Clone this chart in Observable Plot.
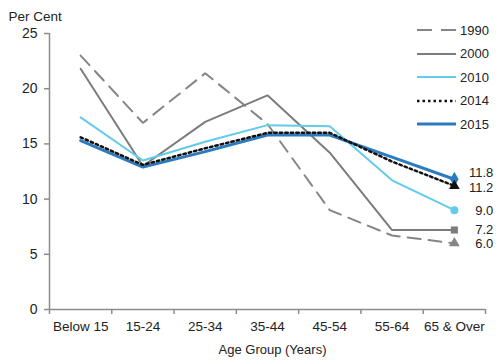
<!DOCTYPE html>
<html><head><meta charset="utf-8">
<script src="https://cdn.jsdelivr.net/npm/d3@7"></script>
<script src="https://cdn.jsdelivr.net/npm/@observablehq/plot@0.6"></script>
<style>
body{margin:0;background:#fff;font-family:"Liberation Sans",Arial,sans-serif;}
#wrap{position:relative;width:500px;height:364px;overflow:hidden;}
#legend{position:absolute;left:416px;top:0;}
.row{position:absolute;left:0;height:16px;display:flex;align-items:center;white-space:nowrap;}
.row span{font-size:13px;color:#222;margin-left:3px;}
</style></head><body><div id="wrap"><div id="legend"></div></div>
<script>
const ageGroups = ["Below 15","15-24","25-34","35-44","45-54","55-64","65 & Over"];
const years = ["1990","2000","2010","2014","2015"];
const v1990 = [23.0,16.9,21.4,16.8,9.0,6.7,6.0];
const v2000 = [21.8,13.0,17.0,19.4,14.2,7.2,7.2];
const v2010 = [17.4,13.5,15.2,16.7,16.6,11.7,9.0];
const v2014 = [15.6,13.1,14.6,16.0,16.0,13.4,11.2];
const v2015 = [15.3,12.9,14.3,15.8,15.8,13.8,11.8];
const yTicks = [0,5,10,15,20,25];

const seriesValues = {"1990":v1990,"2000":v2000,"2010":v2010,"2014":v2014,"2015":v2015};
const style = {
  "1990":{stroke:"#858585",width:2,dash:"13,8",symbol:"triangle",labelDy:1},
  "2000":{stroke:"#7c7c7c",width:2,dash:null,symbol:"square",labelDy:0},
  "2010":{stroke:"#62cbea",width:2,dash:null,symbol:"circle",labelDy:1},
  "2014":{stroke:"#111111",width:2.5,dash:"2.5,3",symbol:"triangle",labelDy:2},
  "2015":{stroke:"#2c7bbf",width:3,dash:null,symbol:"diamond",labelDy:-6}
};
const drawOrder = ["1990","2000","2010","2015","2014"];

const rows = years.flatMap(y => seriesValues[y].map((v,i)=>({year:y,i,v})));
const lastPts = years.map(y => ({year:y,i:ageGroups.length-1,v:seriesValues[y][ageGroups.length-1]}));
const boundaries = d3.range(ageGroups.length+1).map(k=>k-0.5);
const axisColor = "#8c8c8c";

const lineMarks = drawOrder.map(y => Plot.line(rows.filter(d=>d.year===y),{
  x:"i", y:"v", stroke:style[y].stroke, strokeWidth:style[y].width,
  strokeDasharray:style[y].dash||undefined, strokeLinejoin:"miter"
}));
const dotMarks = drawOrder.map(y => Plot.dot(lastPts.filter(d=>d.year===y),{
  x:"i", y:"v", symbol:()=>style[y].symbol, r:y==="2015"?4.5:4,
  fill:style[y].stroke, stroke:"none"
}));
const labelMarks = years.map(y => Plot.text(lastPts.filter(d=>d.year===y),{
  x:"i", y:"v", text:d=>d.v.toFixed(1), textAnchor:"end", dx:39, dy:style[y].labelDy,
  fontSize:13, fill:"#222"
}));

const chart = Plot.plot({
  width:500, height:364,
  marginLeft:49, marginRight:15, marginTop:33, marginBottom:55,
  style:{fontFamily:"'Liberation Sans', Arial, sans-serif", background:"#fff", color:"#222"},
  x:{type:"linear", domain:[-0.5, ageGroups.length-0.5], axis:null},
  y:{domain:[0,25], axis:null},
  symbol:{type:"identity"},
  marks:[
    Plot.axisY({ticks:yTicks, tickSize:5, tickPadding:7, fontSize:14, stroke:axisColor, strokeWidth:1.5, label:null, tickFormat:d=>String(d)}),
    Plot.axisX({ticks:boundaries, tickSize:5, tickFormat:()=>"", stroke:axisColor, strokeWidth:1.5, label:null}),
    Plot.axisX({ticks:d3.range(ageGroups.length), tickSize:0, tickPadding:12, fontSize:13.5, tickFormat:i=>ageGroups[i], label:null}),
    Plot.ruleY([0],{stroke:axisColor, strokeWidth:1.5}),
    Plot.ruleX([-0.5],{stroke:axisColor, strokeWidth:1.5}),
    ...lineMarks,
    ...dotMarks,
    ...labelMarks,
    Plot.text(["Per Cent"],{frameAnchor:"top-left", dx:-41, dy:-22, textAnchor:"start", fontSize:13.5, fill:"#222"}),
    Plot.text(["Age Group (Years)"],{frameAnchor:"bottom", dx:5, dy:44, fontSize:13, fill:"#222"})
  ]
});
document.getElementById("wrap").prepend(chart);

// legend
const legendY = [30,53.5,77,100.5,124];
const leg = d3.select("#legend");
years.forEach((y,k)=>{
  const row = leg.append("div").attr("class","row").style("top",(legendY[k]-8)+"px");
  const svg = row.append("svg").attr("width",41).attr("height",16);
  svg.append("line").attr("x1",1).attr("x2",40).attr("y1",8).attr("y2",8)
    .attr("stroke",style[y].stroke).attr("stroke-width",style[y].width)
    .attr("stroke-dasharray",y==="1990"?"15,9":(style[y].dash||null));
  row.append("span").text(y);
});
</script>
</body></html>
